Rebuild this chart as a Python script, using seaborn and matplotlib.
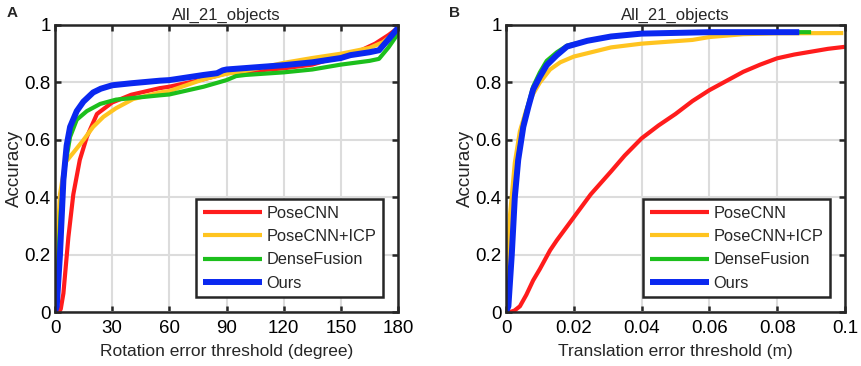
import seaborn as sns
import numpy as np
import pandas as pd
import matplotlib
matplotlib.use("Agg")
import matplotlib.pyplot as plt

# ---- data ----
methods = ['PoseCNN', 'PoseCNN+ICP', 'DenseFusion', 'Ours']

# rotation error threshold (degree) -> accuracy
red_rot_x = [0, 1.75, 3, 4.4, 7, 9.6, 13, 16.7, 22, 30, 40, 55, 60, 78, 90, 100, 120, 135, 150, 160, 168, 175, 180]
red_rot_y = [0, 0, 0.01, 0.065, 0.26, 0.41, 0.53, 0.61, 0.69, 0.73, 0.757, 0.78, 0.785, 0.811, 0.832, 0.838, 0.849, 0.862, 0.892, 0.91, 0.935, 0.965, 0.99]
ylw_rot_x = [0, 0.9, 2.6, 5.3, 9.6, 15, 20, 25.4, 32, 41, 55, 60, 78, 90, 100, 120, 135, 150, 165, 172, 180]
ylw_rot_y = [0, 0.2, 0.41, 0.52, 0.555, 0.6, 0.645, 0.68, 0.71, 0.742, 0.765, 0.77, 0.811, 0.83, 0.84, 0.868, 0.885, 0.9, 0.92, 0.94, 0.98]
grn_rot_x = [0, 1.5, 3, 5.3, 7.9, 11.4, 16.7, 23.7, 32, 40, 55, 60, 78, 90, 95, 100, 120, 135, 150, 165, 170, 175, 180]
grn_rot_y = [0, 0.15, 0.35, 0.51, 0.61, 0.67, 0.70, 0.725, 0.74, 0.745, 0.755, 0.758, 0.785, 0.808, 0.822, 0.826, 0.835, 0.845, 0.862, 0.875, 0.882, 0.922, 0.97]
ours_rot_x = [0, 0.9, 2.6, 4.4, 6.1, 7.9, 11.4, 14.9, 20, 24, 30, 40, 55, 60, 78, 85, 88, 90, 100, 120, 135, 150, 155, 165, 170, 175, 180]
ours_rot_y = [0, 0.02, 0.2, 0.46, 0.58, 0.645, 0.70, 0.733, 0.765, 0.778, 0.79, 0.797, 0.806, 0.808, 0.826, 0.832, 0.842, 0.845, 0.85, 0.86, 0.87, 0.885, 0.895, 0.905, 0.912, 0.95, 0.99]

# translation error threshold (m) -> accuracy
red_tr_x = [0, 0.0012, 0.0025, 0.0041, 0.006, 0.008, 0.01, 0.013, 0.015, 0.02, 0.025, 0.031, 0.035, 0.04, 0.045,
            0.05, 0.055, 0.06, 0.065, 0.07, 0.075, 0.08, 0.085, 0.09, 0.095, 0.1]
red_tr_y = [0, 0, 0.005, 0.02, 0.06, 0.11, 0.15, 0.215, 0.25, 0.33, 0.41, 0.49, 0.545, 0.605, 0.65,
            0.69, 0.735, 0.773, 0.805, 0.837, 0.862, 0.884, 0.897, 0.907, 0.917, 0.924]
ylw_tr_x = [0, 0.0002, 0.0012, 0.0026, 0.0041, 0.006, 0.008, 0.01, 0.013, 0.016, 0.02, 0.031, 0.04, 0.055, 0.06, 0.07, 0.08, 0.0995]
ylw_tr_y = [0, 0.11, 0.34, 0.52, 0.63, 0.705, 0.76, 0.8, 0.845, 0.87, 0.89, 0.922, 0.935, 0.948, 0.958, 0.968, 0.971, 0.972]
grn_tr_x = [0, 0.0007, 0.0017, 0.0026, 0.0036, 0.0051, 0.0066, 0.008, 0.01, 0.012, 0.015, 0.018, 0.024, 0.031, 0.04, 0.06, 0.09]
grn_tr_y = [0, 0.02, 0.2, 0.41, 0.54, 0.655, 0.725, 0.785, 0.835, 0.875, 0.905, 0.928, 0.945, 0.96, 0.97, 0.975, 0.975]
ours_tr_x = [0, 0.0007, 0.0017, 0.0026, 0.0036, 0.0051, 0.0066, 0.008, 0.01, 0.012, 0.015, 0.018, 0.024, 0.031, 0.04, 0.06, 0.0865]
ours_tr_y = [0, 0.02, 0.2, 0.4, 0.53, 0.645, 0.715, 0.775, 0.82, 0.86, 0.895, 0.925, 0.945, 0.96, 0.97, 0.975, 0.975]

rot = {'PoseCNN': (red_rot_x, red_rot_y), 'PoseCNN+ICP': (ylw_rot_x, ylw_rot_y),
       'DenseFusion': (grn_rot_x, grn_rot_y), 'Ours': (ours_rot_x, ours_rot_y)}
trans = {'PoseCNN': (red_tr_x, red_tr_y), 'PoseCNN+ICP': (ylw_tr_x, ylw_tr_y),
         'DenseFusion': (grn_tr_x, grn_tr_y), 'Ours': (ours_tr_x, ours_tr_y)}

colors = {'PoseCNN': '#ff1c1c', 'PoseCNN+ICP': '#ffc420', 'DenseFusion': '#1cbf1c', 'Ours': '#0a28f0'}
widths = {'PoseCNN': 3.0, 'PoseCNN+ICP': 3.0, 'DenseFusion': 3.0, 'Ours': 4.3}

sns.set_theme(style='whitegrid')
plt.rcParams['font.family'] = ['Liberation Sans', 'DejaVu Sans']

fig = plt.figure(figsize=(8.61, 3.66), dpi=100)
ax1 = fig.add_axes([0.0639, 0.1475, 0.3984, 0.7842])
ax2 = fig.add_axes([0.5877, 0.1475, 0.3937, 0.7842])


def draw(ax, data, xmax, xticks, xticklabels, xlabel):
    for m in methods:
        x, y = data[m]
        df = pd.DataFrame({'x': x, 'y': y})
        sns.lineplot(data=df, x='x', y='y', ax=ax, color=colors[m], linewidth=widths[m],
                     label=m, sort=False, estimator=None, solid_capstyle='butt')
    ax.set_xlim(0, xmax)
    ax.set_ylim(0, 1)
    ax.set_xticks(xticks)
    ax.set_xticklabels(xticklabels)
    ax.set_yticks([0, 0.2, 0.4, 0.6, 0.8, 1])
    ax.set_yticklabels(['0', '0.2', '0.4', '0.6', '0.8', '1'])
    ax.set_facecolor('white')
    ax.grid(True, color='#dcdcdc', linewidth=1.5)
    for s in ax.spines.values():
        s.set_visible(True)
        s.set_color('#262626')
        s.set_linewidth(1.8)
    ax.tick_params(direction='in', length=4, width=1.8, color='#262626', labelsize=13.5,
                   top=True, right=True, bottom=True, left=True, pad=3, labelcolor='black')
    ax.tick_params(axis='x', pad=5.5)
    ax.set_xlabel(xlabel, fontsize=12.5, labelpad=5)
    ax.set_ylabel('Accuracy', fontsize=13.5, labelpad=1)
    ax.set_title('All_21_objects', fontsize=12, pad=4)
    leg = ax.legend(loc='lower right', bbox_to_anchor=(0.956, 0.052), fontsize=11.8,
                    frameon=True, fancybox=False, handlelength=3.6, handletextpad=0.3,
                    labelspacing=0.5, borderpad=0.4, borderaxespad=0)
    leg.get_frame().set_edgecolor('#262626')
    leg.get_frame().set_linewidth(1.8)
    leg.get_frame().set_facecolor('white')
    leg.get_frame().set_alpha(1)


draw(ax1, rot, 180, [0, 30, 60, 90, 120, 150, 180], ['0', '30', '60', '90', '120', '150', '180'],
     'Rotation error threshold (degree)')
draw(ax2, trans, 0.1, [0, 0.02, 0.04, 0.06, 0.08, 0.1], ['0', '0.02', '0.04', '0.06', '0.08', '0.1'],
     'Translation error threshold (m)')

fig.text(0.008, 0.965, 'A', fontsize=11, fontweight='bold', va='center')
fig.text(0.522, 0.965, 'B', fontsize=11, fontweight='bold', va='center')

fig.savefig('out.png', dpi=100)
